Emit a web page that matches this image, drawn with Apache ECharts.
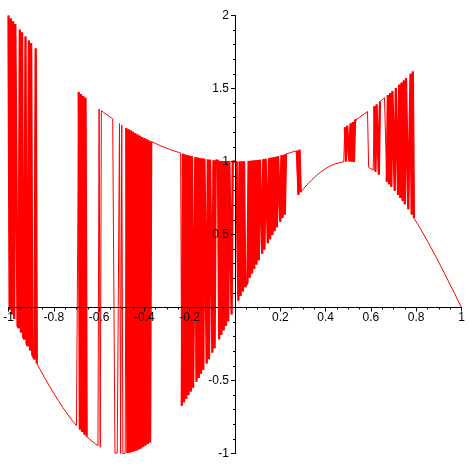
<!DOCTYPE html>
<html>
<head>
<meta charset="utf-8">
<script src="https://cdn.jsdelivr.net/npm/echarts@6/dist/echarts.min.js"></script>
<style>
html,body{margin:0;padding:0;background:#fff;}
#chart{width:469px;height:469px;}
</style>
</head>
<body>
<div id="chart"></div>
<script>
// Tick labels
const xTickLabels = ['-1','-0.8','-0.6','-0.4','-0.2','','0.2','0.4','0.6','0.8','1'];
const yTickLabels = ['-1','-0.5','','0.5','1','1.5','2'];

// Plotted points [x, y], left to right
const leftEdgeBars = [[-1,2.000],[-0.995,-0.016],[-0.99,1.980],[-0.985,-0.047],[-0.98,1.960],[-0.975,-0.079],[-0.97,1.941],[-0.965,1.931],[-0.96,-0.125],[-0.955,-0.141],[-0.95,1.903],[-0.945,-0.172],[-0.94,1.884],[-0.935,-0.203],[-0.93,-0.218],[-0.925,1.856],[-0.92,-0.249],[-0.915,-0.264],[-0.91,1.828],[-0.905,-0.294],[-0.9,1.810],[-0.895,-0.324],[-0.89,-0.339],[-0.885,-0.354],[-0.88,1.774],[-0.875,-0.383]];
const lowerDipA = [[-0.86,-0.426],[-0.84,-0.482],[-0.82,-0.536],[-0.8,-0.588],[-0.78,-0.637],[-0.76,-0.685],[-0.74,-0.729],[-0.72,-0.771],[-0.7,-0.809],[-0.695,-0.818]];
const barsNearMinus07 = [[-0.69,1.476],[-0.685,-0.836],[-0.68,1.462],[-0.675,-0.853],[-0.67,1.449],[-0.665,-0.869],[-0.66,1.436],[-0.655,-0.884]];
const lowerDipB = [[-0.64,-0.905],[-0.62,-0.930],[-0.605,-0.946]];
const upperArcA = [[-0.6,1.360],[-0.595,-0.956],[-0.59,1.348],[-0.58,1.336],[-0.56,1.314],[-0.54,1.292],[-0.535,1.286],[-0.53,-0.996],[-0.52,-0.998],[-0.515,-0.999],[-0.51,1.260],[-0.505,-1.000],[-0.5,1.250],[-0.495,-1.000],[-0.49,-1.000],[-0.485,-0.999]];
const denseBlockA = [[-0.48,1.230],[-0.475,-0.997],[-0.47,1.221],[-0.465,-0.994],[-0.46,1.212],[-0.455,-0.990],[-0.45,1.203],[-0.445,-0.985],[-0.44,1.194],[-0.435,-0.979],[-0.43,1.185],[-0.425,-0.972],[-0.42,1.176],[-0.415,-0.965],[-0.41,1.168],[-0.405,-0.956],[-0.4,1.160],[-0.395,-0.946],[-0.39,1.152],[-0.385,-0.935],[-0.38,1.144],[-0.375,-0.924],[-0.37,1.137]];
const upperArcB = [[-0.35,1.123],[-0.33,1.109],[-0.31,1.096],[-0.29,1.084],[-0.27,1.073],[-0.25,1.063],[-0.24,1.058]];
const denseBlockB = [[-0.235,-0.673],[-0.23,1.053],[-0.225,-0.649],[-0.22,1.048],[-0.215,-0.625],[-0.21,1.044],[-0.205,-0.600],[-0.2,1.040],[-0.195,-0.575],[-0.19,1.036],[-0.185,-0.549],[-0.18,-0.536],[-0.175,1.031],[-0.17,-0.509],[-0.165,1.027],[-0.16,-0.482],[-0.155,1.024],[-0.15,-0.454],[-0.145,1.021],[-0.14,-0.426],[-0.135,1.018],[-0.13,1.017],[-0.125,-0.383],[-0.12,1.014],[-0.115,-0.354],[-0.11,1.012],[-0.105,1.011],[-0.1,-0.309],[-0.095,1.009],[-0.09,-0.279],[-0.085,1.007],[-0.08,1.006],[-0.075,1.006],[-0.07,-0.218],[-0.065,1.004],[-0.06,-0.187],[-0.055,1.003],[-0.05,-0.156],[-0.045,1.002],[-0.04,-0.125],[-0.035,1.001],[-0.03,-0.094],[-0.025,1.001],[-0.02,1.000],[-0.015,-0.047],[-0.01,1.000],[-0.005,1.000],[0,1.000]];
const denseBlockC = [[0.005,1.000],[0.01,1.000],[0.015,0.047],[0.02,1.000],[0.025,0.079],[0.03,1.001],[0.035,0.110],[0.04,1.002],[0.045,0.141],[0.05,0.156],[0.055,0.172],[0.06,1.004],[0.065,0.203],[0.07,1.005],[0.075,0.233],[0.08,1.006],[0.085,0.264],[0.09,1.008],[0.095,0.294],[0.1,1.010],[0.105,0.324],[0.11,1.012],[0.115,1.013],[0.12,0.368],[0.125,1.016],[0.13,0.397],[0.135,1.018],[0.14,1.020],[0.145,0.440],[0.15,1.023],[0.155,0.468],[0.16,1.026],[0.165,0.496],[0.17,1.029],[0.175,0.523],[0.18,1.032],[0.185,0.549],[0.19,1.036],[0.195,1.038],[0.2,0.588],[0.205,1.042],[0.21,0.613],[0.215,1.046],[0.22,0.637],[0.225,1.051]];
const upperStepC = [[0.25,1.063],[0.27,1.073]];
const barNear028 = [[0.275,1.076],[0.28,0.771],[0.285,1.081],[0.29,0.790]];
const lowerHump = [[0.3,0.809],[0.32,0.844],[0.34,0.876],[0.36,0.905],[0.38,0.930],[0.4,0.951],[0.42,0.969],[0.44,0.982],[0.46,0.992],[0.48,0.998]];
const rightBarsA = [[0.485,1.235],[0.49,1.000],[0.495,1.245],[0.5,1.250],[0.505,1.000],[0.51,1.260],[0.515,0.999],[0.52,1.270],[0.525,0.997],[0.53,1.281],[0.535,1.286]];
const upperArcC = [[0.55,1.303],[0.57,1.325],[0.585,1.342],[0.59,0.960],[0.6,0.951],[0.61,0.941]];
const rightBarsB = [[0.615,1.378],[0.62,0.930],[0.625,1.391],[0.63,1.397],[0.635,0.911],[0.64,1.410]];
const upperStepD = [[0.645,1.416],[0.65,1.423],[0.655,1.429],[0.66,1.436],[0.665,1.442]];
const rightBarsC = [[0.67,0.861],[0.675,1.456],[0.68,0.844],[0.685,1.469],[0.69,0.827],[0.695,1.483],[0.7,1.490],[0.705,0.800],[0.71,1.504],[0.715,1.511],[0.72,0.771],[0.725,1.526],[0.73,0.750],[0.735,1.540],[0.74,0.729],[0.745,1.555],[0.75,0.707],[0.755,1.570],[0.76,1.578],[0.765,0.673],[0.77,0.661],[0.775,1.601],[0.78,0.637],[0.785,1.616],[0.79,0.613]];
const lowerTail = [[0.82,0.536],[0.85,0.454],[0.88,0.368],[0.91,0.279],[0.94,0.187],[0.97,0.094],[1,0.000]];

const points = [].concat(leftEdgeBars, lowerDipA, barsNearMinus07, lowerDipB, upperArcA,
  denseBlockA, upperArcB, denseBlockB, denseBlockC, upperStepC, barNear028, lowerHump,
  rightBarsA, upperArcC, rightBarsB, upperStepD, rightBarsC, lowerTail);
// densely switching stretches, stroked again more heavily so they read as solid
const denseStretches = [leftEdgeBars, barsNearMinus07, denseBlockA, denseBlockB, denseBlockC,
  barNear028, rightBarsA, rightBarsB, rightBarsC];

const W = 469, H = 469;
const gridLeft = 8.5, gridRight = 7.5, gridTop = 15.5, gridBottom = 15.5;
const plotW = W - gridLeft - gridRight, plotH = H - gridTop - gridBottom;
const xAxisOffset = -plotH * (0 - (-1)) / (2 - (-1));
const yAxisOffset = -plotW * (0 - (-1)) / (1 - (-1));

const chart = echarts.init(document.getElementById('chart'), null, {renderer: 'canvas'});
const labelFont = {color: '#000', fontFamily: 'Liberation Sans, Arial, sans-serif', fontSize: 12};
const redLine = (data, width) => ({
  type: 'line', data: data, showSymbol: false, symbol: 'none', smooth: false, clip: false,
  lineStyle: {color: '#ff0000', width: width, join: 'bevel'}, itemStyle: {color: '#ff0000'}, z: 1,
  silent: true
});
chart.setOption({
  animation: false,
  backgroundColor: '#fff',
  grid: {left: gridLeft, right: gridRight, top: gridTop, bottom: gridBottom, containLabel: false, outerBoundsMode: 'none'},
  xAxis: {
    type: 'value', min: -1, max: 1, interval: 0.2, position: 'bottom', offset: xAxisOffset, z: 5,
    axisLine: {show: true, onZero: false, lineStyle: {color: '#000', width: 1}},
    axisTick: {show: true, length: 4, lineStyle: {color: '#000'}},
    minorTick: {show: true, splitNumber: 4, length: 2, lineStyle: {color: '#000'}},
    splitLine: {show: false},
    axisLabel: Object.assign({margin: 4, showMinLabel: true, showMaxLabel: true,
      formatter: v => xTickLabels[Math.round((v + 1) / 0.2)] ?? ''}, labelFont)
  },
  yAxis: {
    type: 'value', min: -1, max: 2, interval: 0.5, position: 'left', offset: yAxisOffset, z: 5,
    axisLine: {show: true, onZero: false, lineStyle: {color: '#000', width: 1}},
    axisTick: {show: true, length: 4, lineStyle: {color: '#000'}},
    minorTick: {show: true, splitNumber: 5, length: 2, lineStyle: {color: '#000'}},
    splitLine: {show: false},
    axisLabel: Object.assign({margin: 6, showMinLabel: true, showMaxLabel: true,
      formatter: v => yTickLabels[Math.round((v + 1) / 0.5)] ?? ''}, labelFont)
  },
  series: [redLine(points, 1)].concat(denseStretches.map(d => redLine(d, 2.3)))
});
</script>
</body>
</html>
